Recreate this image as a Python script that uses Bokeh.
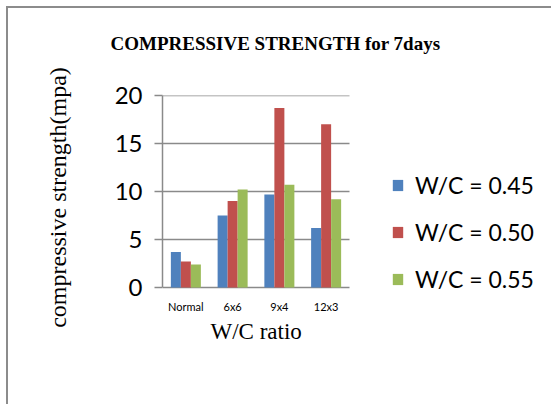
from bokeh.plotting import figure
from bokeh.models import Range1d, Legend, LegendItem, FixedTicker, Title, ColumnDataSource
from bokeh.transform import dodge
from bokeh.embed import file_html
from bokeh.resources import INLINE

categories = ["Normal", "6x6", "9x4", "12x3"]
series_names = ["W/C = 0.45", "W/C = 0.50", "W/C = 0.55"]
wc_045 = [3.7, 7.5, 9.7, 6.2]
wc_050 = [2.7, 9.0, 18.7, 17.0]
wc_055 = [2.4, 10.2, 10.7, 9.2]
y_ticks = [0, 5, 10, 15, 20]

colors = ["#4F81BD", "#C0504D", "#9BBB59"]
grid_color = "#8a8a8a"

n = len(categories)
centers = [i + 0.5 for i in range(n)]
src = ColumnDataSource(data=dict(x=centers, a=wc_045, b=wc_050, c=wc_055))

# layout (pixels)
W, H = 545, 398
left, right, top, bottom = 154, 4, 87, 107
plot_w = 187                     # pixel width of the category area
frame_w = W - left - right
x_end = n * frame_w / plot_w     # extra room on the right holds the legend
pad_px = 12                      # room below zero for the legend
y_scale = 192 / 20
y_start = -pad_px / y_scale

p = figure(x_range=Range1d(0, x_end), y_range=Range1d(y_start, 20),
           width=W, height=H, output_backend="svg", toolbar_location=None,
           title=None,
           min_border_left=left, min_border_right=right,
           min_border_top=top, min_border_bottom=bottom)
p.styles = {"border-left": "2px solid #8c8c8c", "border-top": "2px solid #8c8c8c",
            "margin-left": "6px", "margin-top": "6px"}
p.outline_line_color = None
p.background_fill_color = "white"
p.grid.visible = False

# horizontal gridlines across the category area
p.segment(x0=[0] * len(y_ticks), x1=[n] * len(y_ticks), y0=y_ticks, y1=y_ticks,
          line_color=grid_color, line_width=1.5, level="underlay")

bw = 0.214
r1 = p.vbar(x=dodge("x", -bw), top="a", width=bw, source=src,
            fill_color=colors[0], line_color=None)
r2 = p.vbar(x=dodge("x", 0.0), top="b", width=bw, source=src,
            fill_color=colors[1], line_color=None)
r3 = p.vbar(x=dodge("x", bw), top="c", width=bw, source=src,
            fill_color=colors[2], line_color=None)

# y axis
p.yaxis.ticker = FixedTicker(ticks=y_ticks)
p.yaxis.bounds = (0, 20)
p.yaxis.axis_line_color = grid_color
p.yaxis.axis_line_width = 1.5
p.yaxis.major_tick_line_color = grid_color
p.yaxis.major_tick_line_width = 1.5
p.yaxis.major_tick_out = 8
p.yaxis.major_tick_in = 0
p.yaxis.minor_tick_line_color = None
p.yaxis.major_label_text_font = "Lato"
p.yaxis.major_label_text_font_size = "24px"
p.yaxis.major_label_text_color = "black"
p.yaxis.major_label_standoff = 12
p.yaxis.axis_label = "compressive strength(mpa)"
p.yaxis.axis_label_text_font = "Liberation Serif"
p.yaxis.axis_label_text_font_style = "normal"
p.yaxis.axis_label_text_font_size = "24px"
p.yaxis.axis_label_text_color = "black"
p.yaxis.axis_label_standoff = 41

# x axis
p.xaxis.ticker = FixedTicker(ticks=centers)
p.xaxis.major_label_overrides = {c: lab for c, lab in zip(centers, categories)}
p.xaxis.axis_line_color = None
p.xaxis.major_tick_line_color = None
p.xaxis.major_tick_out = 0
p.xaxis.major_tick_in = 0
p.xaxis.minor_tick_line_color = None
p.xaxis.major_label_text_font = "Lato"
p.xaxis.major_label_text_font_size = "11px"
p.xaxis.major_label_text_color = "black"
p.xaxis.major_label_standoff = 0

xt = Title(text="W/C ratio", align="left", text_font="Liberation Serif",
           text_font_style="normal", text_font_size="23px", text_color="black",
           standoff=2, offset=48)
p.add_layout(xt, "below")

# chart title, lifted away from the frame
t = Title(text="COMPRESSIVE STRENGTH for 7days", align="left",
          text_font="Liberation Serif", text_font_style="bold",
          text_font_size="19px", text_color="black", standoff=0, offset=-52)
if "padding" in t.properties():
    t.padding = dict(top=0, right=0, bottom=42, left=0)
else:
    t.standoff = 65
p.add_layout(t, "above")

legend = Legend(items=[LegendItem(label=series_names[0], renderers=[r1]),
                       LegendItem(label=series_names[1], renderers=[r2]),
                       LegendItem(label=series_names[2], renderers=[r3])],
                location=(229, 6))
legend.border_line_color = None
legend.background_fill_alpha = 0
legend.glyph_width = 13
legend.glyph_height = 14
legend.label_text_font = "Lato"
legend.label_text_font_size = "23px"
legend.label_text_color = "black"
legend.spacing = 19
legend.padding = 4
legend.margin = 0
legend.label_standoff = 11
p.add_layout(legend)

open("out.html", "w").write(file_html(p, INLINE))
